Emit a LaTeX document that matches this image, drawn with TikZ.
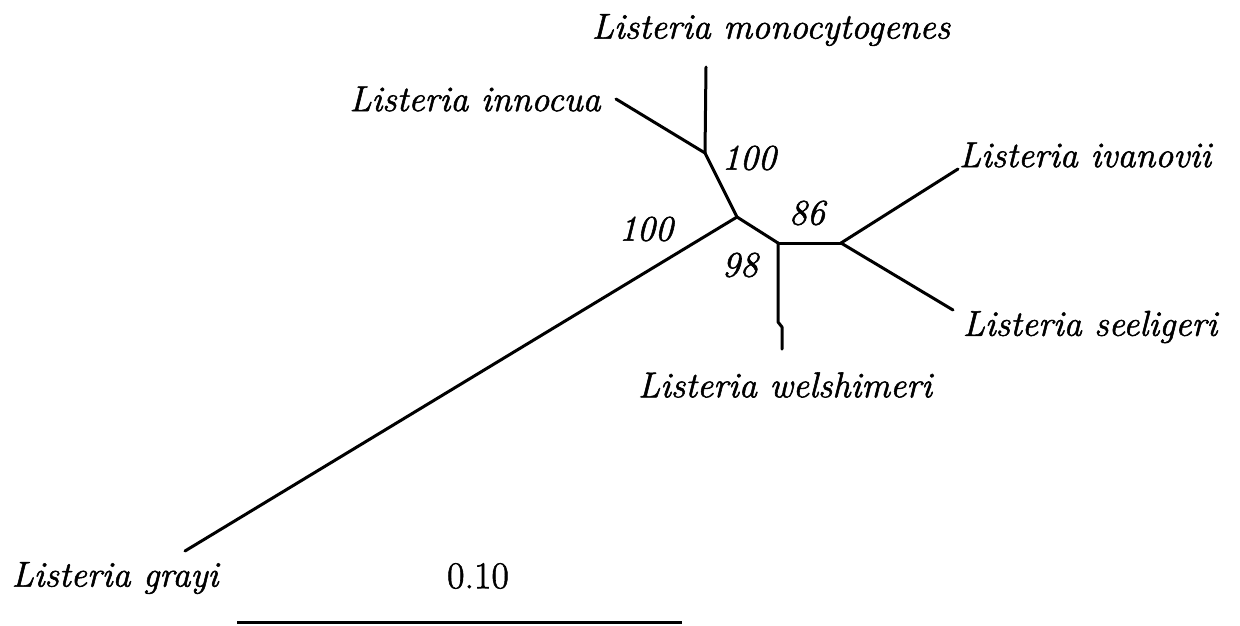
\documentclass[tikz,border=0pt]{standalone}
\usepackage{fontspec}
\setmainfont{Latin Modern Roman}[FakeBold=1.5]
\begin{document}
\begin{tikzpicture}[x=1pt,y=-1pt,
  branch/.style={line width=3pt,line cap=round,line join=round},
  taxon/.style={font=\fontsize{36}{42}\selectfont\itshape,inner sep=0pt},
  boot/.style={font=\fontsize{36}{42}\selectfont\itshape,inner sep=0pt},
  scalelab/.style={font=\fontsize{38}{44}\selectfont,inner sep=0pt}]
\useasboundingbox (0,0) rectangle (1240,625);
% internal nodes
\coordinate (A) at (705,153);
\coordinate (B) at (737,217);
\coordinate (C) at (778,243);
\coordinate (D) at (841,243);
% tips
\coordinate (tmono) at (706,67);
\coordinate (tinno) at (616,99);
\coordinate (tivan) at (958,169);
\coordinate (tseel) at (953,310);
\coordinate (wjog) at (778,322);
\coordinate (twel) at (782,349);
\coordinate (tgray) at (185,551);
\coordinate (s1) at (237,622);
\coordinate (s2) at (682,622);
% branches
\draw[branch] (tmono) -- (A);
\draw[branch] (tinno) -- (A);
\draw[branch] (A) -- (B);
\draw[branch] (tgray) -- (B);
\draw[branch] (B) -- (C);
\draw[branch] (C) -- (wjog) -- ++(4,5) -- (twel);
\draw[branch] (C) -- (D);
\draw[branch] (D) -- (tivan);
\draw[branch] (D) -- (tseel);
\draw[branch,line cap=butt] (s1) -- (s2);
% labels
\node[taxon] (lmono) at (771,30) {Listeria monocytogenes};
\node[taxon] (linno) at (475,99) {Listeria innocua};
\node[taxon] (livan) at (1085,155) {Listeria ivanovii};
\node[taxon] (lseel) at (1090,327) {Listeria seeligeri};
\node[taxon] (lwel) at (785,385) {Listeria welshimeri};
\node[taxon] (lgray) at (115,578) {Listeria grayi};
\node[boot] (b1) at (749,158) {100};
\node[boot] (b2) at (646,229) {100};
\node[boot] (b3) at (807,213) {86};
\node[boot] (b4) at (740,265) {98};
\node[scalelab] (sl) at (478,576) {0.10};
\end{tikzpicture}
\end{document}
